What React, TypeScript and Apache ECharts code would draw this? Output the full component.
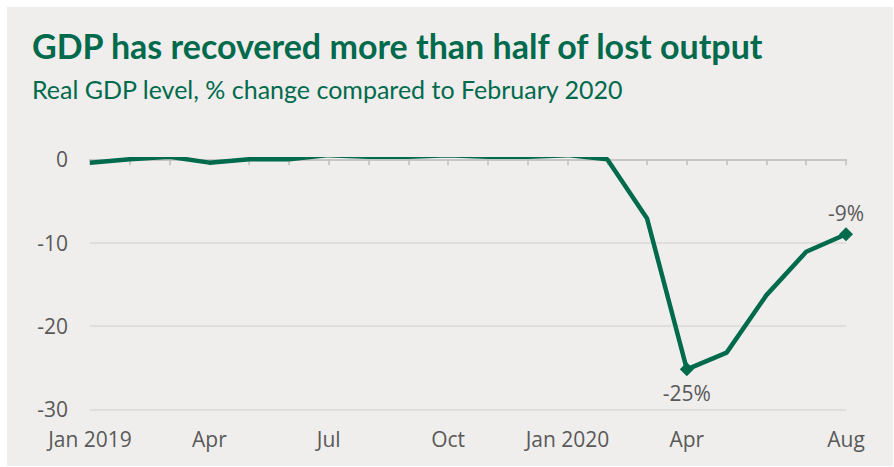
import React, { useEffect, useRef } from "react";
import * as echarts from "echarts";

const categories = [
  "Jan 2019", "Feb", "Mar", "Apr", "May", "Jun", "Jul", "Aug", "Sep", "Oct", "Nov", "Dec",
  "Jan 2020", "Feb", "Mar", "Apr", "May", "Jun", "Jul", "Aug",
];
const gdpChange = [
  -0.4, 0.0, 0.3, -0.4, 0.0, 0.0, 0.5, 0.3, 0.3, 0.5, 0.3, 0.3,
  0.5, 0.0, -7.1, -25.2, -23.2, -16.3, -11.1, -9.0,
];
const shownLabelIdx = [0, 3, 6, 9, 12, 15, 19];
const markedIdx = [15, 19];
const markedLabelPos = ["bottom", "top"];
const yTicks = { min: -30, max: 0, interval: 10 };

const GREEN = "#006a4d";
const GREY_TEXT = "#595959";
const FONT = "'Open Sans', sans-serif";

export default function App() {
  const ref = useRef<HTMLDivElement>(null);
  useEffect(() => {
    if (!ref.current) return;
    const chart = echarts.init(ref.current, undefined, { renderer: "svg" });
    const data = gdpChange.map((v, i) => {
      const m = markedIdx.indexOf(i);
      if (m < 0) return v;
      return {
        value: v,
        symbol: "diamond",
        symbolSize: 14,
        label: {
          show: true,
          position: markedLabelPos[m],
          distance: m === 0 ? 6 : 4,
          formatter: Math.round(v) + "%",
          color: GREY_TEXT,
          fontFamily: FONT,
          fontSize: 21,
        },
      };
    });
    chart.setOption({
      animation: false,
      backgroundColor: "#ffffff",
      graphic: [
        {
          type: "rect",
          z: -10,
          shape: { x: 7, y: 7, width: 886, height: 459 },
          style: { fill: "#efeeec" },
          silent: true,
        },
      ],
      title: [
        {
          text: "GDP has recovered more than half of lost output",
          left: 32,
          top: 28,
          padding: 0,
          textStyle: { color: GREEN, fontFamily: "Lato", fontWeight: "bold", fontSize: 34, lineHeight: 34 },
        },
        {
          text: "Real GDP level, % change compared to February 2020",
          left: 32,
          top: 76,
          padding: 0,
          textStyle: { color: GREEN, fontFamily: "Lato", fontWeight: "normal", fontSize: 25, lineHeight: 25 },
        },
      ],
      grid: { left: 90, right: 48, top: 159.3, bottom: 57.7, containLabel: false },
      xAxis: [
        {
          type: "category",
          data: categories,
          boundaryGap: false,
          position: "bottom",
          axisLine: { show: false },
          axisTick: { show: false },
          splitLine: { show: false },
          axisLabel: {
            interval: (idx: number) => shownLabelIdx.includes(idx),
            color: GREY_TEXT,
            fontFamily: FONT,
            fontSize: 21,
            margin: 19,
          },
        },
        {
          type: "category",
          data: categories,
          boundaryGap: false,
          position: "top",
          axisLine: { show: true, onZero: false, lineStyle: { color: "#bfbfbf", width: 1.5 } },
          axisTick: { show: true, inside: true, length: 6, interval: 0, lineStyle: { color: "#bfbfbf", width: 1.5 } },
          axisLabel: { show: false },
          splitLine: { show: false },
        },
      ],
      yAxis: {
        type: "value",
        min: yTicks.min,
        max: yTicks.max,
        interval: yTicks.interval,
        axisLine: { show: false },
        axisTick: { show: false },
        axisLabel: { color: GREY_TEXT, fontFamily: FONT, fontSize: 21, margin: 22 },
        splitLine: { show: true, lineStyle: { color: "#d9d9d9", width: 1.5 } },
      },
      series: [
        {
          type: "line",
          xAxisIndex: 0,
          data,
          symbol: "none",
          showSymbol: true,
          lineStyle: { color: GREEN, width: 4.5 },
          itemStyle: { color: GREEN },
          z: 5,
        },
      ],
    });
    return () => chart.dispose();
  }, []);
  return (
    <div
      ref={ref}
      style={{ position: "absolute", left: 0, top: 0, width: 894, height: 467 }}
    />
  );
}
